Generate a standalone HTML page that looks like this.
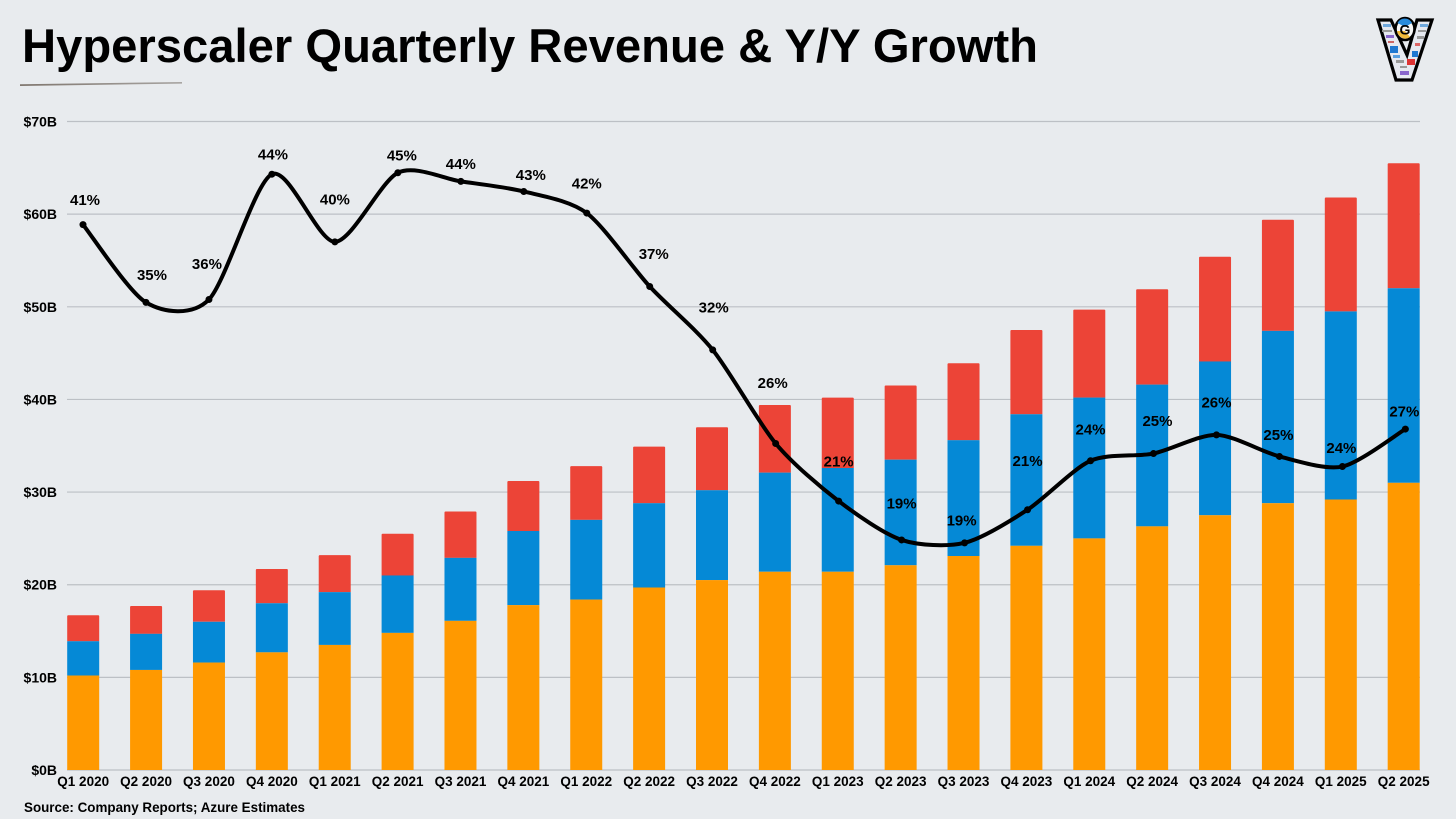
<!DOCTYPE html>
<html lang="en">
<head>
<meta charset="utf-8">
<title>Hyperscaler Quarterly Revenue &amp; Y/Y Growth</title>
<style>
html,body{margin:0;padding:0;background:#e8ebee;}
body{width:1456px;height:819px;overflow:hidden;}
svg{display:block;}
text{font-family:"Liberation Sans",sans-serif;font-weight:700;fill:#000;}
</style>
</head>
<body>
<svg id="chart" width="1456" height="819" viewBox="0 0 1456 819" xmlns="http://www.w3.org/2000/svg">
  <defs>
    <linearGradient id="rule" x1="0" x2="1" y1="0" y2="0">
      <stop offset="0" stop-color="#7f766e"/><stop offset="1" stop-color="#a8a5a2"/>
    </linearGradient>
  </defs>
  <rect width="1456" height="819" fill="#e8ebee"/>
  <text x="22" y="62" font-size="47" textLength="1016" lengthAdjust="spacingAndGlyphs">Hyperscaler Quarterly Revenue &amp; Y/Y Growth</text>
  <path d="M20 84.2 L182 82 L182 83.6 L20 86 Z" fill="url(#rule)"/>
  <g id="grid"></g>
  <g id="ylabels"></g>
  <g id="bars"></g>
  <g id="xlabels"></g>
  <g id="growth"></g>
  <text x="24" y="812" font-size="13.5" textLength="281" lengthAdjust="spacingAndGlyphs">Source: Company Reports; Azure Estimates</text>
  <g>
    <path d="M1378 20 L1391 20 L1407 55 L1417 20 L1432 20 L1412 80 L1396 80 Z" fill="#e6e9f0" stroke="#000" stroke-width="3.2" stroke-linejoin="miter"/>
    <rect x="1383" y="24" width="8" height="3" fill="#6fa8dc"/>
    <rect x="1382" y="30" width="10" height="2" fill="#999"/>
    <rect x="1386" y="35" width="8" height="3" fill="#86c"/>
    <rect x="1388" y="41" width="6" height="2" fill="#c66"/>
    <rect x="1390" y="46" width="8" height="7" fill="#1f78d1"/>
    <rect x="1393" y="55" width="7" height="3" fill="#5aa0e0"/>
    <rect x="1396" y="60" width="8" height="3" fill="#999"/>
    <rect x="1407" y="59" width="8" height="6" fill="#d33"/>
    <rect x="1412" y="51" width="6" height="6" fill="#1f78d1"/>
    <rect x="1400" y="66" width="7" height="2" fill="#999"/>
    <rect x="1400" y="71" width="9" height="4" fill="#86c"/>
    <rect x="1420" y="24" width="8" height="3" fill="#6fa8dc"/>
    <rect x="1418" y="30" width="8" height="2" fill="#999"/>
    <rect x="1417" y="36" width="7" height="3" fill="#999"/>
    <rect x="1415" y="43" width="5" height="3" fill="#d66"/>
    <ellipse cx="1405" cy="29" rx="9.5" ry="11" fill="#f7f7f7" stroke="#000" stroke-width="2.6"/>
    <path d="M1397.5 23 A8.5 9.5 0 0 1 1412 23 L1405 27 Z" fill="#2a8cdc"/>
    <path d="M1397 31 A8.5 9.5 0 0 0 1410 37 L1405 31 Z" fill="#f0b93a"/>
    <text x="1405" y="34.5" font-size="14" text-anchor="middle">G</text>
  </g>
</svg>
<script>
const categories = ["Q1 2020","Q2 2020","Q3 2020","Q4 2020","Q1 2021","Q2 2021","Q3 2021","Q4 2021","Q1 2022","Q2 2022","Q3 2022","Q4 2022","Q1 2023","Q2 2023","Q3 2023","Q4 2023","Q1 2024","Q2 2024","Q3 2024","Q4 2024","Q1 2025","Q2 2025"];
const orangeSeries = [10.2,10.8,11.6,12.7,13.5,14.8,16.1,17.8,18.4,19.7,20.5,21.4,21.4,22.1,23.1,24.2,25.0,26.3,27.5,28.8,29.2,31.0];
const blueSeries = [3.7,3.9,4.4,5.3,5.7,6.2,6.8,8.0,8.6,9.1,9.7,10.7,11.2,11.4,12.5,14.2,15.2,15.3,16.6,18.6,20.3,21.0];
const redSeries = [2.8,3.0,3.4,3.7,4.0,4.5,5.0,5.4,5.8,6.1,6.8,7.3,7.6,8.0,8.3,9.1,9.5,10.3,11.3,12.0,12.3,13.5];
const growthSeries = [41.0,35.6,35.8,44.5,39.8,44.6,44.0,43.3,41.8,36.7,32.3,25.8,21.8,19.1,18.9,21.2,24.6,25.1,26.4,24.9,24.2,26.8];
const growthLabels = ["41%","35%","36%","44%","40%","45%","44%","43%","42%","37%","32%","26%","21%","19%","19%","21%","24%","25%","26%","25%","24%","27%"];
const yTickValues = [0,10,20,30,40,50,60,70];
const yTickLabels = ["$0B","$10B","$20B","$30B","$40B","$50B","$60B","$70B"];

const NS = "http://www.w3.org/2000/svg";
function x(i){ return 83.2 + i * 62.88; }
function xLine(i){ return 83 + i * 62.97; }
function y(v){ return 770 - v * 9.264; }
function yGrowth(p){ return 815 - p * 14.4; }
function make(tag, attrs, parent){
  const el = document.createElementNS(NS, tag);
  for (const k in attrs) el.setAttribute(k, attrs[k]);
  parent.appendChild(el);
  return el;
}
function slug(s){ return s.toLowerCase().replace(/\s+/g,'-'); }

const gridG = document.getElementById('grid');
const yG = document.getElementById('ylabels');
yTickValues.forEach(function(v, i){
  const line = make('line', {x1:67, x2:1420, y1:y(v), y2:y(v), stroke:'#bcc0c5', 'stroke-width':1.2}, gridG);
  
  
  const t = make('text', {x:57, y:y(v)+5, 'font-size':14, 'text-anchor':'end'}, yG);
  
  
  t.textContent = yTickLabels[i];
});

const barsG = document.getElementById('bars');
const xG = document.getElementById('xlabels');
const barW = 32;
categories.forEach(function(c, i){
  const base = orangeSeries[i], mid = base + blueSeries[i], top = mid + redSeries[i];
  const r = make('path', {d:'M'+(x(i)-barW/2)+' '+y(mid)+' V'+(y(top)+1)+' Q'+(x(i)-barW/2)+' '+y(top)+' '+(x(i)-barW/2+1)+' '+y(top)+' H'+(x(i)+barW/2-1)+' Q'+(x(i)+barW/2)+' '+y(top)+' '+(x(i)+barW/2)+' '+(y(top)+1)+' V'+y(mid)+' Z', fill:'#ec4437'}, barsG);
  
  
  const b = make('rect', {x:x(i)-barW/2, y:y(mid), width:barW, height:y(base)-y(mid), fill:'#0589d6'}, barsG);
  
  
  const o = make('rect', {x:x(i)-barW/2, y:y(base), width:barW, height:y(0)-y(base), fill:'#ff9900'}, barsG);
  
  
  const t = make('text', {x:x(i), y:786, 'font-size':13.5, 'text-anchor':'middle'}, xG);
  
  
  t.textContent = c;
});

function drawGrowth(){
  const g = document.getElementById('growth');
  const pts = growthSeries.map(function(p, i){ return [xLine(i), yGrowth(p)]; });
  let d = 'M' + pts[0][0] + ' ' + pts[0][1];
  const k = 0.135;
  for (let i = 0; i < pts.length - 1; i++){
    const p0 = pts[Math.max(i-1,0)], p1 = pts[i], p2 = pts[i+1], p3 = pts[Math.min(i+2,pts.length-1)];
    d += ' C' + (p1[0]+(p2[0]-p0[0])*k) + ' ' + (p1[1]+(p2[1]-p0[1])*k) + ' ' + (p2[0]-(p3[0]-p1[0])*k) + ' ' + (p2[1]-(p3[1]-p1[1])*k) + ' ' + p2[0] + ' ' + p2[1];
  }
  const line = make('path', {d:d, fill:'none', stroke:'#000', 'stroke-width':4, 'stroke-linecap':'round'}, g);
  
  
  // hand-placed label nudges from each point, as in the original artwork
  const nudgeX = {0:2,1:6,2:-2,3:1,5:4,7:7,9:4,10:1,11:-3,14:-3,17:4,19:-1,20:-1,21:-1};
  const lift = [25,28,36,20,43,18,18,17,30,33,43,61,40,37,23,49,32,33,33,22,19,18];
  pts.forEach(function(p, i){
    const dot = make('circle', {cx:p[0], cy:p[1], r:3.5, fill:'#000'}, g);
    
    
    const t = make('text', {x:p[0]+(nudgeX[i]||0), y:p[1]-lift[i]+5.5, 'font-size':15, 'text-anchor':'middle'}, g);
    
    
    t.textContent = growthLabels[i];
  });
}
drawGrowth();
</script>
</body>
</html>
